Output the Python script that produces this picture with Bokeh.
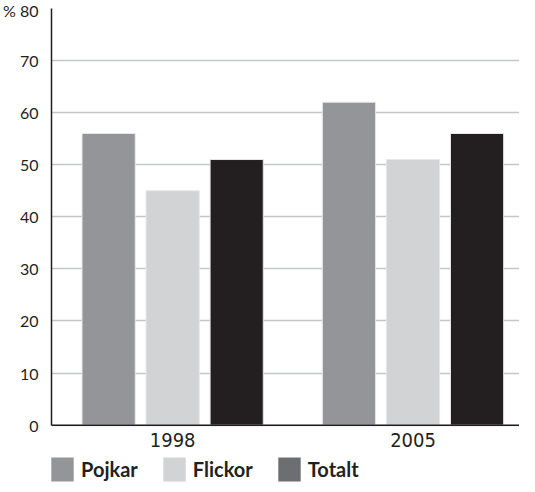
from bokeh.plotting import figure
from bokeh.models import ColumnDataSource, Range1d, FixedTicker, Legend, LegendItem, Span
from bokeh.core.properties import value
from bokeh.transform import dodge
from bokeh.embed import file_html
from bokeh.resources import INLINE

years = ["1998", "2005"]
pojkar = [56, 62]
flickor = [45, 51]
totalt = [51, 56]
series = ["Pojkar", "Flickor", "Totalt"]
y_ticks = [0, 10, 20, 30, 40, 50, 60, 70, 80]

bar_colors = ["#939598", "#d1d3d4", "#231f20"]
legend_colors = ["#939598", "#d1d3d4", "#6d6e71"]
ink = "#231f20"

src = ColumnDataSource(dict(x=list(range(len(years))), year=years,
                            Pojkar=pojkar, Flickor=flickor, Totalt=totalt))

p = figure(width=519, height=484, output_backend="svg", toolbar_location=None,
           x_axis_location=None,
           x_range=Range1d(-0.504, 1.443), y_range=Range1d(-11.4, 80),
           min_border_left=44, min_border_right=0, min_border_top=8, min_border_bottom=0)
p.outline_line_color = None
p.background_fill_color = "white"
p.border_fill_color = "white"

# grid
p.xgrid.visible = False
p.ygrid.ticker = FixedTicker(ticks=y_ticks)
p.ygrid.grid_line_color = "#c4c5c7"
p.ygrid.grid_line_width = 1.5

offsets = [-0.2664, 0.0, 0.2664]
for name, off, col in zip(series, offsets, bar_colors):
    p.vbar(x=dodge("x", off), top=name, width=0.2213, source=src,
           fill_color=col, line_color="#e6e7e8", line_width=1)

# x baseline (category axis line)
p.add_layout(Span(location=0, dimension="width", line_color=ink, line_width=1.5))

# category labels under the baseline
p.text(x="x", y=0, text="year", source=src, y_offset=8,
       text_align="center", text_baseline="top",
       text_font=value("DejaVu Sans Condensed"), text_font_size=value("20px"),
       text_color=ink)

# legend swatches (zero-height bars used only for the legend keys)
items = []
for name, col in zip(series, legend_colors):
    r = p.vbar(x="x", top=0, width=0.2, source=src, fill_color=col, line_color=None)
    items.append(LegendItem(label=name, renderers=[r]))

legend = Legend(items=items, orientation="horizontal", location=(-3, 0),
                glyph_width=28, glyph_height=30, label_standoff=5, spacing=22,
                padding=0, margin=0, border_line_color=None, background_fill_alpha=0,
                label_text_font="Lato", label_text_font_style="bold",
                label_text_font_size="20px", label_text_color=ink,
                label_height=30)
p.add_layout(legend, "center")

# y axis
p.yaxis.ticker = FixedTicker(ticks=y_ticks)
p.yaxis.bounds = (0, 80)
p.yaxis.major_label_overrides = {80: "% 80"}
p.yaxis.major_tick_line_color = None
p.yaxis.minor_tick_line_color = None
p.yaxis.axis_line_color = ink
p.yaxis.axis_line_width = 1.5
p.yaxis.major_label_text_font = "Lato"
p.yaxis.major_label_text_font_size = "16px"
p.yaxis.major_label_text_color = ink
p.yaxis.major_label_standoff = 7

open("out.html", "w").write(file_html(p, INLINE))
